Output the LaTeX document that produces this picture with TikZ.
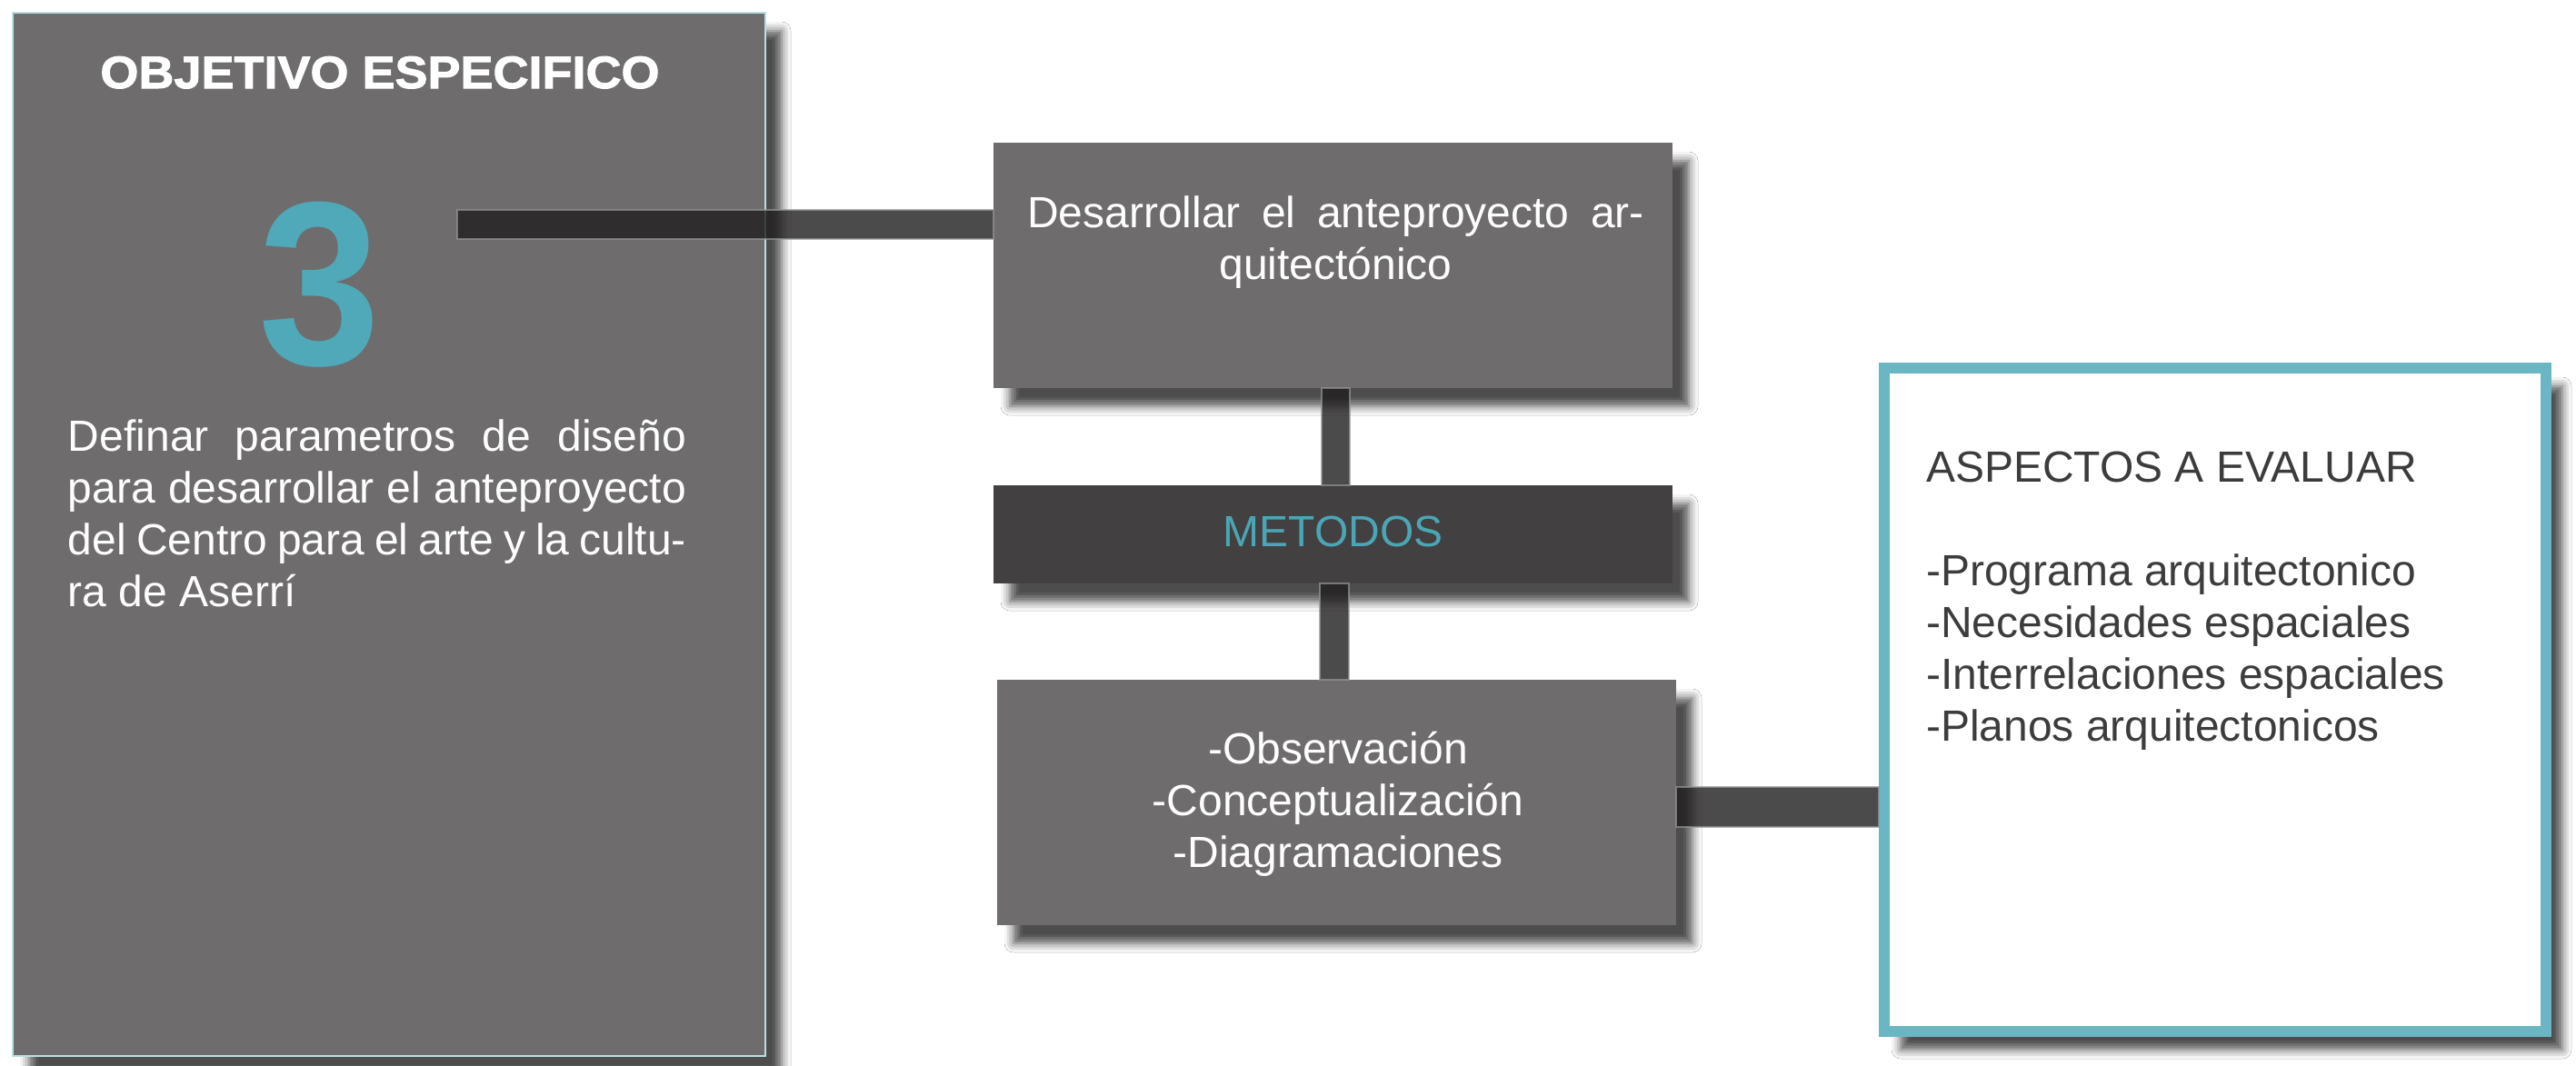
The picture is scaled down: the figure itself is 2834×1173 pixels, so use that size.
\documentclass[tikz,border=0pt]{standalone}
\usepackage{fontspec}
\setmainfont{Liberation Sans}
\newfontfamily\titlefont{Liberation Sans}[FakeStretch=1.08,FakeBold=2]
\usetikzlibrary{calc,shadows.blur}
\definecolor{boxgray}{HTML}{6E6C6D}
\definecolor{metgray}{HTML}{434041}
\definecolor{teal3}{HTML}{4FA9B8}
\definecolor{tealm}{HTML}{4AA6B5}
\definecolor{tealframe}{HTML}{6BB6C3}
\definecolor{lightframe}{HTML}{B9DFE5}
\definecolor{conndark}{HTML}{201E1F}
\definecolor{connedge}{HTML}{969696}
\definecolor{darktext}{HTML}{3C3C3C}
\begin{document}
\begin{tikzpicture}[x=0.5pt,y=-0.5pt,
  shad/.style={blur shadow={shadow xshift=9pt,shadow yshift=-10pt,shadow blur radius=5pt,shadow opacity=70}},
  box/.style={rectangle, fill=boxgray, inner sep=0pt, outer sep=0pt, shad},
  conn/.style={fill=conndark, fill opacity=0.8, draw=connedge, draw opacity=0.7, line width=1pt},
  txt/.style={inner sep=0pt, outer sep=0pt, font=\fontsize{24pt}{28.5pt}\selectfont}
]
\useasboundingbox (0,0) rectangle (2834,1173);
\fill[white] (0,0) rectangle (2834,1173);

% boxes
\node[box, draw=lightframe, line width=1pt, minimum width=414pt, minimum height=574pt] (obj) at (428,588) {};
\node[box, minimum width=373.5pt, minimum height=135pt] (box2) at (1466.5,292) {};
\node[box, fill=metgray, minimum width=373.5pt, minimum height=54pt] (met) at (1466.5,588) {};
\node[box, minimum width=373.5pt, minimum height=135pt] (box3) at (1470.5,883) {};
\node[rectangle, fill=white, draw=tealframe, line width=6.25pt, minimum width=364pt, minimum height=365pt, inner sep=0pt, shad] (asp) at (2437,770) {};

% texts
\node[txt, anchor=base, text=white, font=\fontsize{25pt}{28.5pt}\selectfont] (title) at (418,97) {\titlefont\bfseries OBJETIVO ESPECIFICO};
\node[inner sep=0pt, anchor=base, text=teal3, font=\fontsize{128.5pt}{130pt}\selectfont\bfseries] (three) at (352,401) {\scalebox{0.94}[1]{3}};
\node[txt, anchor=base west, text=white] (objtxt) at (75,496) {\parbox[t]{340pt}{\makebox[340pt][s]{Definar parametros de diseño}\\
\makebox[340pt][s]{para desarrollar el anteproyecto}\\
\makebox[340pt][s]{del Centro para el arte y la cultu-}\\
ra de Aserrí}};
\node[txt, anchor=base west, text=white] (b2txt) at (1130,250) {\parbox[t]{339.5pt}{\centering\makebox[339.5pt][s]{Desarrollar el anteproyecto ar-}\\
quitectónico}};
\node[txt, anchor=base, text=tealm] (mettxt) at (1466.5,601) {METODOS};
\node[txt, anchor=base, text=white] (b3txt) at (1472,840) {\parbox[t]{373pt}{\centering -Observación\\
-Conceptualización\\
-Diagramaciones}};
\node[txt, anchor=base west, text=darktext] (asptxt) at (2119,530) {\parbox[t]{340pt}{\raggedright ASPECTOS A EVALUAR\\[28.5pt]
-Programa arquitectonico\\
-Necesidades espaciales\\
-Interrelaciones espaciales\\
-Planos arquitectonicos}};

% connectors
\coordinate (c1) at (503,247);
\path[conn] ($(c1)+(0,-16)$) rectangle ($(box2.west |- c1)+(0,16)$);
\path[conn] ($(box2.south)+(-12.5,0)$) rectangle ($(met.north)+(18.5,0)$);
\path[conn] ($(met.south)+(-14.5,0)$) rectangle ($(box3.north)+(13.5,0)$);
\path[conn] ($(box3.east)+(0,-17)$) rectangle ($(asp.west |- box3.east)+(0,27)$);
\end{tikzpicture}
\end{document}
